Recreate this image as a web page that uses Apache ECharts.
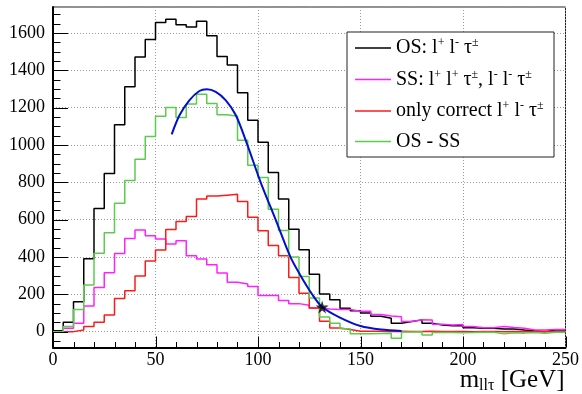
<!DOCTYPE html>
<html>
<head>
<meta charset="utf-8">
<script src="https://cdn.jsdelivr.net/npm/echarts@6/dist/echarts.min.js"></script>
<style>
  html, body { margin: 0; padding: 0; background: #fff; }
  #chart { width: 582px; height: 394px; }
</style>
</head>
<body>
<div id="chart"></div>
<script>
// Histogram binning (GeV)
const binStart = 0;
const binWidth = 5;

// OS: l+ l- tau
const osCounts = [
  5, 50, 160, 390, 660, 847, 1108, 1312, 1471, 1565,
  1656, 1674, 1644, 1632, 1662, 1585, 1474, 1428, 1280, 1132,
  1015, 852, 710, 549, 438, 308, 201, 171, 125, 112,
  100, 82, 72, 45, 54, 63, 45, 36, 32, 32,
  21, 18, 18, 14, 14, 9, 5, 0, 9, 9
];
// SS: l+ l+ tau, l- l- tau
const ssCounts = [
  0, 18, 45, 137, 237, 316, 419, 499, 544, 514,
  496, 469, 487, 406, 389, 358, 314, 264, 255, 242,
  194, 194, 167, 150, 141, 127, 121, 118, 118, 109,
  109, 92, 84, 80, 54, 63, 62, 40, 36, 38,
  27, 21, 21, 27, 22, 18, 9, 9, 12, 12
];
// only correct l+ l- tau
const correctCounts = [
  0, 0, 9, 27, 50, 89, 178, 219, 298, 378,
  437, 547, 590, 617, 711, 726, 731, 736, 697, 613,
  540, 462, 406, 290, 205, 127, 55, 20, 11, 2,
  2, 2, 1, 2, 1, 1, 2, 1, 1, 1,
  0, 1, 1, 0, 1, 0, 0, 1, 0, 0
];
// OS - SS
const diffCounts = [
  0, 27, 119, 250, 420, 530, 688, 810, 923, 1045,
  1154, 1200, 1147, 1220, 1271, 1222, 1162, 1154, 1025, 891,
  825, 656, 542, 400, 296, 180, 78, 45, 15, -12,
  -12, -10, -9, -36, -2, 0, -18, -4, -4, -6,
  -5, -3, -3, -12, -6, -8, -4, -9, -3, -3
];

// Fitted curve on the OS - SS distribution
const fitX = [57.9, 61.7, 66.5, 71.4, 75.0, 79.4, 84.3, 89.2, 94.5, 101.3,
              108.6, 115.8, 120.5, 126.4, 131.3, 140, 150, 160, 170];
const fitY = [1057, 1159, 1239, 1289, 1298, 1284, 1239, 1159, 1010, 800,
              600, 400, 305, 200, 132, 75, 30, 11, 4];

// Endpoint marker on the fit
const endpoint = [131.3, 132];

// Axis ranges and tick spacing
const xRange = [0, 250];
const xMajorStep = 50;
const xMinorStep = 10;
const yRange = [-85, 1739];
const yMajorStep = 200;
const yMinorStep = 50;

const SERIF = "'Liberation Serif', 'DejaVu Serif', serif";

function toSteps(counts) {
  const pts = counts.map((c, i) => [binStart + i * binWidth, c]);
  pts.push([binStart + counts.length * binWidth, counts[counts.length - 1]]);
  return pts;
}

// tick values along each axis (minor spacing, majors included)
const xTickValues = [];
for (let v = xRange[0] + xMinorStep; v <= xRange[1]; v += xMinorStep) xTickValues.push(v);
const yTickValues = [];
for (let v = Math.ceil(yRange[0] / yMinorStep) * yMinorStep; v <= yRange[1]; v += yMinorStep) yTickValues.push(v);

const legendText = {
  'OS': '{t|OS: l}{s|+}{t| l}{s|-}{t| τ}{s|±}',
  'SS': '{t|SS: l}{s|+}{t| l}{s|+}{t| τ}{s|±}{t|, l}{s|-}{t| l}{s|-}{t| τ}{s|±}',
  'correct': '{t|only correct l}{s|+}{t| l}{s|-}{t| τ}{s|±}',
  'OS - SS': '{t|OS - SS}'
};

function histSeries(name, counts, color, z) {
  return {
    name: name,
    type: 'line',
    step: 'end',
    data: toSteps(counts),
    showSymbol: false,
    symbol: 'none',
    color: color,
    lineStyle: { color: color, width: 1.5 },
    itemStyle: { color: color },
    z: z,
    animation: false
  };
}

// Inward ticks drawn through the axis scales: major ticks long, minor short
function tickSeries(name, values, vertical) {
  return {
    name: name,
    type: 'custom',
    silent: true,
    clip: false,
    z: 4,
    animation: false,
    data: values.map(v => (vertical ? [v, yRange[0]] : [xRange[0], v])),
    renderItem: (params, api) => {
      const p = api.coord([api.value(0), api.value(1)]);
      if (vertical) {
        const major = api.value(0) % xMajorStep === 0;
        const x = Math.round(p[0]) + 0.5;
        return { type: 'line', shape: { x1: x, y1: p[1], x2: x, y2: p[1] - (major ? 11 : 5.5) },
                 style: { stroke: '#000', lineWidth: 1 } };
      }
      const major = api.value(1) % yMajorStep === 0;
      const y = Math.round(p[1]) + 0.5;
      return { type: 'line', shape: { x1: p[0], y1: y, x2: p[0] + (major ? 15 : 7.5), y2: y },
               style: { stroke: '#000', lineWidth: 1 } };
    }
  };
}

const chart = echarts.init(document.getElementById('chart'), null, { renderer: 'canvas' });

chart.setOption({
  animation: false,
  backgroundColor: '#fff',
  textStyle: { fontFamily: SERIF, color: '#000' },
  grid: {
    left: 53, right: 14, top: 7, bottom: 46.5,
    show: true, borderColor: '#222', borderWidth: 1
  },
  xAxis: {
    type: 'value',
    min: xRange[0], max: xRange[1], interval: xMajorStep,
    axisLine: { show: true, onZero: false, lineStyle: { color: '#000', width: 2 } },
    axisTick: { show: false },
    minorTick: { show: false },
    axisLabel: { color: '#000', fontSize: 18, margin: 4, formatter: v => String(v) },
    splitLine: { show: true, lineStyle: { color: '#999', type: [1, 2], width: 1 } },
    name: '{m|m}{sub|llτ}{m| [GeV]}',
    nameLocation: 'end',
    nameGap: -1,
    nameMoveOverlap: false,
    nameTextStyle: {
      align: 'right', verticalAlign: 'top', padding: [20, 0, 0, 0],
      rich: {
        m: { fontFamily: SERIF, fontSize: 25, lineHeight: 26, color: '#000' },
        sub: { fontFamily: SERIF, fontSize: 16, lineHeight: 16, color: '#000', verticalAlign: 'bottom' }
      }
    }
  },
  yAxis: {
    type: 'value',
    min: yRange[0], max: yRange[1],
    splitNumber: Math.floor((yRange[1] - yRange[0]) / yMajorStep),
    axisLine: { show: true, onZero: false, lineStyle: { color: '#000', width: 2 } },
    axisTick: { show: false },
    axisLabel: {
      color: '#000', fontSize: 18, margin: 8,
      formatter: v => (v % yMajorStep === 0 ? String(v) : '')
    },
    splitLine: { show: true, lineStyle: { color: '#999', type: [1, 2], width: 1 } }
  },
  legend: {
    data: ['OS', 'SS', 'correct', 'OS - SS'],
    orient: 'vertical',
    left: 355, top: 37,
    padding: 0,
    itemGap: 10.5,
    itemWidth: 36,
    itemHeight: 1.5,
    icon: 'rect',
    selectedMode: false,
    formatter: name => legendText[name],
    textStyle: {
      color: '#000',
      rich: {
        t: { fontFamily: SERIF, fontSize: 20, lineHeight: 22, color: '#000' },
        s: { fontFamily: SERIF, fontSize: 12, lineHeight: 12, color: '#000', verticalAlign: 'top' }
      }
    },
    z: 5
  },
  graphic: [{
    type: 'rect',
    z: 3,
    shape: { x: 347, y: 32, width: 207, height: 125 },
    style: { fill: '#fff', stroke: '#222', lineWidth: 1 }
  }],
  series: [
    histSeries('OS', osCounts, '#000000', 2),
    histSeries('SS', ssCounts, '#ff22ff', 2),
    histSeries('correct', correctCounts, '#ff1a1a', 2),
    histSeries('OS - SS', diffCounts, '#5ccc4c', 2),
    {
      name: 'fit',
      type: 'line',
      data: fitX.map((x, i) => [x, fitY[i]]),
      smooth: 0.3,
      showSymbol: false,
      symbol: 'none',
      lineStyle: { color: '#0010cc', width: 2 },
      z: 2,
      animation: false
    },
    {
      name: 'endpoint',
      type: 'scatter',
      data: [endpoint],
      symbol: 'path://M50,0 L61,35 L98,35 L68,57 L79,91 L50,70 L21,91 L32,57 L2,35 L39,35 Z',
      symbolSize: 13,
      itemStyle: { color: '#000' },
      z: 3,
      animation: false
    },
    tickSeries('xTicks', xTickValues, true),
    tickSeries('yTicks', yTickValues, false)
  ]
});
</script>
</body>
</html>
